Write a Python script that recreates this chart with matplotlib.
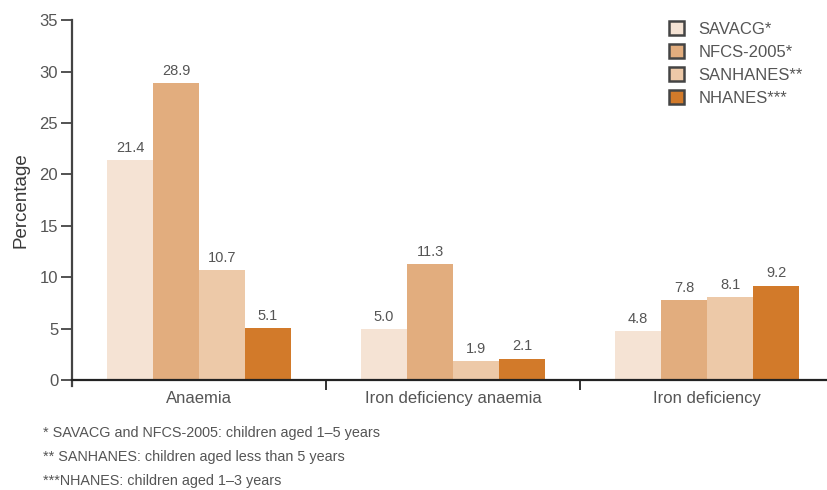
import numpy as np
import matplotlib

matplotlib.use("Agg")
import matplotlib.pyplot as plt
from matplotlib.patches import Patch

plt.rcParams["font.family"] = ["Liberation Sans", "DejaVu Sans"]

# ---------------------------------------------------------------------------
# Data
# ---------------------------------------------------------------------------
CATEGORIES = ["Anaemia", "Iron deficiency anaemia", "Iron deficiency"]
SURVEYS = ["SAVACG*", "NFCS-2005*", "SANHANES**", "NHANES***"]
SAVACG = [21.4, 5.0, 4.8]
NFCS_2005 = [28.9, 11.3, 7.8]
SANHANES = [10.7, 1.9, 8.1]
NHANES = [5.1, 2.1, 9.2]
FOOTNOTES = [
    "* SAVACG and NFCS-2005: children aged 1\u20135 years",
    "** SANHANES: children aged less than 5 years",
    "***NHANES: children aged 1\u20133 years",
]

COLORS = ["#f5e3d4", "#e2ad7e", "#edc9a8", "#d27a2a"]
TEXT = "#555555"

series = [SAVACG, NFCS_2005, SANHANES, NHANES]

fig = plt.figure(figsize=(8.28, 4.9), dpi=100)
ax = fig.add_axes([0.087, 0.224, 0.913, 0.735])

centres = np.arange(len(CATEGORIES)) + 0.5
width = 0.181
for i, (vals, color) in enumerate(zip(series, COLORS)):
    xs = centres + (i - 1.5) * width
    ax.bar(xs, vals, width=width, color=color, edgecolor="none", zorder=2)
    for x, v in zip(xs, vals):
        ax.text(x, v + 0.5, f"{v:.1f}", ha="center", va="bottom",
                fontsize=10.5, color=TEXT)

ax.set_xlim(0, 2.976)
ax.set_ylim(0, 35)
ax.set_yticks(range(0, 36, 5))
ax.set_xticks(centres)
ax.set_xticklabels(CATEGORIES, fontsize=12, color=TEXT)
ax.set_xticks([1, 2], minor=True)
ax.tick_params(axis="x", which="major", length=0, pad=8)
ax.tick_params(axis="x", which="minor", length=7, width=1.3, color="#222222")
ax.tick_params(axis="y", labelsize=12, labelcolor=TEXT, length=8,
               width=1.3, color="#444444", pad=2)
ax.set_ylabel("Percentage", fontsize=13.5, color="#3a3a3a", labelpad=7)

ax.spines["top"].set_visible(False)
ax.spines["right"].set_visible(False)
ax.spines["left"].set_color("#444444")
ax.spines["left"].set_linewidth(1.6)
ax.spines["left"].set_bounds(-0.6, 35)
ax.spines["bottom"].set_color("#222222")
ax.spines["bottom"].set_linewidth(1.6)

handles = [Patch(facecolor=c, edgecolor="#444444", linewidth=1.8) for c in COLORS]
fig.legend(handles, SURVEYS, loc="upper left",
           bbox_to_anchor=(669 / 828, 1 - 21 / 490), borderpad=0,
           borderaxespad=0, frameon=False, fontsize=12, labelcolor=TEXT,
           handlelength=0.9, handleheight=0.9, handletextpad=0.85,
           labelspacing=0.45)

for k, note in enumerate(FOOTNOTES):
    fig.text(0.052, 0.117 - k * 0.049, note, fontsize=10.4, color=TEXT,
             va="center", ha="left")

fig.savefig("out.png", dpi=100)
